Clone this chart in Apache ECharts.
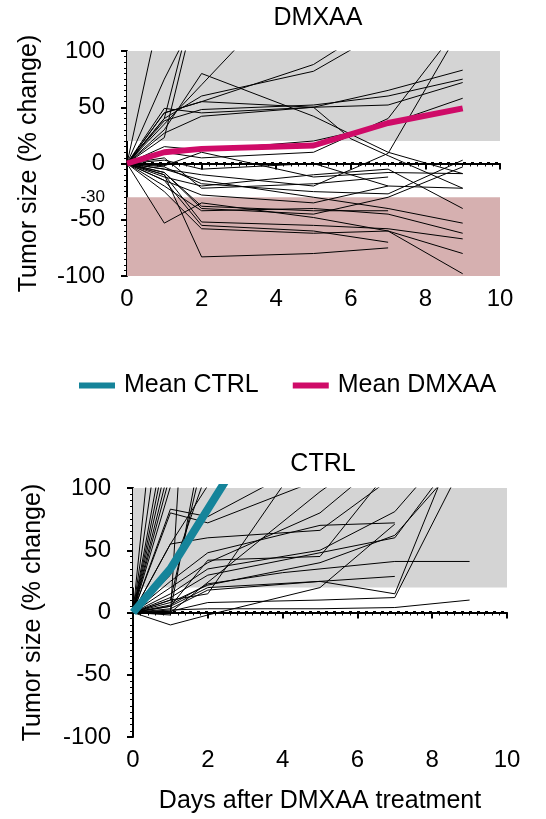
<!DOCTYPE html>
<html>
<head>
<meta charset="utf-8">
<script src="https://cdn.jsdelivr.net/npm/echarts@6/dist/echarts.min.js"></script>
<style>
  html, body { margin: 0; padding: 0; background: #fff; }
  #chart { width: 546px; height: 819px; }
</style>
</head>
<body>
<div id="chart"></div>
<script>
// ---- data ----
var dmxLabelValues = [100, 50, 0, -30, -50, -100];
var dmxTickValues = [100, 50, 0, -50, -100];
var ctrlLabelValues = [100, 50, 0, -50, -100];

var zeroLine = [[0, 0], [10, 0]];
var dmxGrayBand = [20, 100];
var dmxPinkBand = [-100, -30];
var ctrlGrayBand = [20, 100];

var dmxMean = [[0, 0], [1, 10], [2, 13], [5, 16], [7, 36], [9, 49]];
var ctrlMean = [[0, 0], [1, 35], [2, 83], [3, 131]];

// individual DMXAA tumors (% change)
var dmxLines = [
  [[0, 0], [1, 152]],
  [[0, 0], [1, 40], [2, 170]],
  [[0, 0], [1, 75], [2, 140]],
  [[0, 0], [1, 23], [2, 160]],
  [[0, 0], [1, 35], [2, 70], [5, 175]],
  [[0, 0], [1, 30], [2, 80], [5, 42], [7, 10], [9, -9]],
  [[0, 0], [1, 45], [2, 55], [5, 88], [7, 130]],
  [[0, 0], [1, 40], [2, 60], [5, 82], [7, 120]],
  [[0, 0], [1, 45], [2, 55], [5, 50], [7, 65], [9, 83]],
  [[0, 0], [1, 38], [2, 48], [5, 52], [7, 60], [9, 75]],
  [[0, 0], [1, 27], [2, 42], [5, 50], [7, 52], [9, 72]],
  [[0, 0], [1, 15], [2, 12], [5, 20], [7, 35], [9, 58]],
  [[0, 0], [1, 49], [2, 45], [5, 50], [6, 22], [7, 7], [9, -22]],
  [[0, 0], [1, -5], [2, -10], [5, -20], [7, 9], [9, 123]],
  [[0, 0], [1, 10], [2, 5], [5, 10], [7, 40], [9, 126]],
  [[0, 0], [1, -3], [2, -18], [5, -25], [7, -27], [9, 3]],
  [[0, 0], [1, -8], [2, -40], [5, -45], [7, -30], [9, -3]],
  [[0, 0], [1, -12], [2, -20], [5, -10], [7, -5], [9, -40]],
  [[0, 0], [1, -5], [2, -15], [5, -30], [7, -40], [9, -53]],
  [[0, 0], [1, -20], [2, -42], [5, -40], [7, -45], [9, -62]],
  [[0, 0], [1, -10], [2, -52], [5, -55], [7, -58], [9, -67]],
  [[0, 0], [1, -25], [2, -58], [5, -62], [7, -60], [9, -80]],
  [[0, 0], [1, -53], [2, -35], [5, -48], [7, -60], [9, -98]],
  [[0, 0], [1, -10], [2, -83], [5, -80], [7, -75]],
  [[0, 0], [1, -15], [2, -55], [5, -60], [7, -70]],
  [[0, 0], [1, -8], [2, -38], [5, -42], [7, -42]],
  [[0, 0], [1, -2], [2, 10], [5, -12], [7, -8], [9, -9]],
  [[0, 0], [1, 3], [2, -5], [5, 0], [7, -20], [9, -22]],
  [[0, 0], [1, -15], [2, -28], [5, -35], [7, -20]],
  [[0, 0], [1, 5], [2, -22], [5, -18], [7, -12]]
];

// individual CTRL tumors (% change)
var ctrlLines = [
  [[0, 0], [1, 294]],
  [[0, 0], [1, 208]],
  [[0, 0], [1, 164]],
  [[0, 0], [1, 147]],
  [[0, 0], [1, 133]],
  [[0, 0], [1, 120]],
  [[0, 0], [1, 111]],
  [[0, 0], [1, 101]],
  [[0, 0], [1, 1], [2, 160]],
  [[0, 0], [1, 10], [2, 140]],
  [[0, 0], [1, 30], [2, 115]],
  [[0, 0], [1, 55], [2, 102]],
  [[0, 0], [1, -2], [2, 500]],
  [[0, 0], [1, 83], [2, 77], [5, 125]],
  [[0, 0], [1, 80], [2, 72], [5, 107]],
  [[0, 0], [1, 55], [2, 60], [5, 66], [7, 110]],
  [[0, 0], [1, 0], [5, 97], [7, 140]],
  [[0, 0], [1, -10], [2, -2], [5, 20], [7, 71]],
  [[0, 0], [1, 5], [2, 42], [5, 45], [7, 120]],
  [[0, 0], [1, 8], [2, 22], [5, 40], [7, 62], [9, 130]],
  [[0, 0], [1, 12], [2, 30], [5, 48], [7, 60], [9, 140]],
  [[0, 0], [1, 6], [2, 23], [4, 32], [7, 41], [9, 41]],
  [[0, 0], [1, 2], [2, 3], [5, 3], [7, 4], [9, 10]],
  [[0, 0], [1, 3], [2, 18], [5, 25], [7, 15], [9, 163]],
  [[0, 0], [1, 1], [2, 8], [5, 10], [7, 12], [9, 130]],
  [[0, 0], [1, 5], [2, 20], [5, 25], [7, 29]],
  [[0, 0], [1, 15], [2, 35], [5, 50], [7, 81], [9, 150]],
  [[0, 0], [1, 20], [2, 40], [5, 80], [7, 130]],
  [[0, 0], [1, 10], [2, 15], [5, 145]],
  [[0, 0], [1, 25], [2, 48], [5, 70], [7, 72]]
];

var FONT = 'Liberation Sans, Arial, sans-serif';
var TEAL = '#15849a';
var MAGENTA = '#cf0b68';

var chart = echarts.init(document.getElementById('chart'));

function xAxisCfg(gridIndex, name) {
  return {
    type: 'value', gridIndex: gridIndex, min: 0, max: 10, interval: 2,
    name: name, nameLocation: 'middle', nameGap: 52,
    nameTextStyle: { color: '#000', fontSize: 25, fontFamily: FONT },
    axisLine: { lineStyle: { color: '#000', width: 2 } },
    axisTick: { show: true, length: 6, lineStyle: { color: '#000', width: 2 } },
    minorTick: { show: true, splitNumber: 10, length: 3, lineStyle: { color: '#000', width: 1 } },
    axisLabel: { color: '#000', fontSize: 24, fontFamily: FONT, margin: 11 },
    splitLine: { show: false }
  };
}

function yAxisCfg(gridIndex, labelValues, tickValues, gap) {
  return {
    type: 'value', gridIndex: gridIndex, min: -100, max: 100, interval: 50,
    name: 'Tumor size (% change)', nameLocation: 'middle', nameGap: gap,
    nameTextStyle: { color: '#000', fontSize: 25, fontFamily: FONT },
    axisLine: { show: true, lineStyle: { color: '#000', width: 2 } },
    axisTick: { show: true, length: 6, customValues: tickValues, lineStyle: { color: '#000', width: 2 } },
    minorTick: { show: true, splitNumber: 10, length: 3, lineStyle: { color: '#000', width: 1 } },
    axisLabel: {
      color: '#000', fontSize: 24, fontFamily: FONT, margin: 22,
      customValues: labelValues,
      formatter: function (v) { return v === -30 ? '{s|-30}' : String(v); },
      rich: { s: { fontSize: 17, fontFamily: FONT, color: '#000' } }
    },
    splitLine: { show: false }
  };
}

function bandArea(lo, hi, color) {
  return [{ xAxis: 0, yAxis: lo, itemStyle: { color: color } }, { xAxis: 10, yAxis: hi }];
}

var series = [];

// zero reference lines carrying the shaded bands
series.push({
  type: 'line', xAxisIndex: 0, yAxisIndex: 0, data: zeroLine, symbol: 'none', silent: true, z: 3,
  lineStyle: { color: '#000', width: 3, type: [3, 5] },
  markArea: { silent: true, z: 1, data: [bandArea(dmxGrayBand[0], dmxGrayBand[1], '#d4d4d4'), bandArea(dmxPinkBand[0], dmxPinkBand[1], '#d6b0b0')] }
});
series.push({
  type: 'line', xAxisIndex: 1, yAxisIndex: 1, data: zeroLine, symbol: 'none', silent: true, z: 3,
  lineStyle: { color: '#000', width: 3, type: [3, 5] },
  markArea: { silent: true, z: 1, data: [bandArea(ctrlGrayBand[0], ctrlGrayBand[1], '#d4d4d4')] }
});

dmxLines.forEach(function (d) {
  series.push({ type: 'line', xAxisIndex: 0, yAxisIndex: 0, data: d, symbol: 'none', silent: true, clip: true, z: 4,
    lineStyle: { color: '#000', width: 1 } });
});
ctrlLines.forEach(function (d) {
  series.push({ type: 'line', xAxisIndex: 1, yAxisIndex: 1, data: d, symbol: 'none', silent: true, clip: true, z: 4,
    lineStyle: { color: '#000', width: 1 } });
});

series.push({ name: 'Mean CTRL', type: 'line', xAxisIndex: 1, yAxisIndex: 1, data: ctrlMean, symbol: 'none', clip: true, z: 6,
  itemStyle: { color: TEAL }, lineStyle: { color: TEAL, width: 8 } });
series.push({ name: 'Mean DMXAA', type: 'line', xAxisIndex: 0, yAxisIndex: 0, data: dmxMean, symbol: 'none', clip: true, z: 6,
  itemStyle: { color: MAGENTA }, lineStyle: { color: MAGENTA, width: 6 } });

chart.setOption({
  animation: false,
  textStyle: { fontFamily: FONT },
  title: [
    { text: 'DMXAA', left: 313, top: 1, textAlign: 'center', textStyle: { fontSize: 25, fontWeight: 'normal', color: '#000', fontFamily: FONT } },
    { text: 'CTRL', left: 318, top: 447, textAlign: 'center', textStyle: { fontSize: 25, fontWeight: 'normal', color: '#000', fontFamily: FONT } }
  ],
  legend: {
    data: ['Mean CTRL', 'Mean DMXAA'], left: 74, top: 368, icon: 'rect',
    itemWidth: 36, itemHeight: 6, itemGap: 34,
    textStyle: { fontSize: 25, color: '#000', fontFamily: FONT, padding: [0, 0, 0, 4] }
  },
  grid: [
    { left: 127, top: 51, width: 373, height: 225 },
    { left: 133, top: 488, width: 374, height: 249 }
  ],
  xAxis: [xAxisCfg(0, ''), xAxisCfg(1, 'Days after DMXAA treatment')],
  yAxis: [yAxisCfg(0, dmxLabelValues, dmxTickValues, 85), yAxisCfg(1, ctrlLabelValues, ctrlLabelValues, 87)],
  series: series
});
</script>
</body>
</html>
